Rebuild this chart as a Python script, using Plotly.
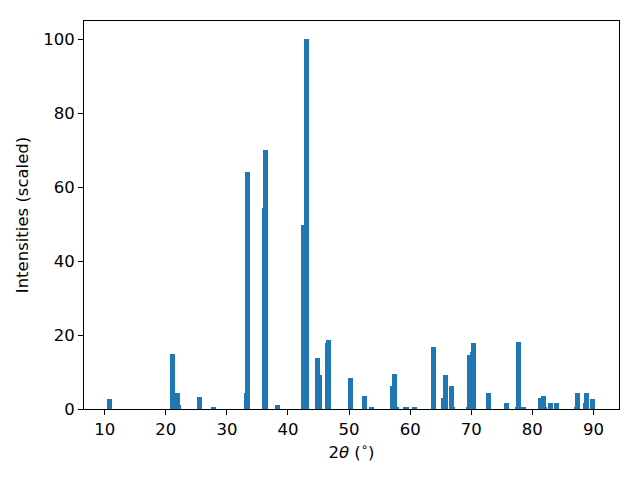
import plotly.graph_objects as go

two_theta = [10.79, 21.09, 21.9, 22.07, 25.51, 27.8, 33.2, 33.36, 36.2, 36.39,
             38.27, 42.52, 43.0, 44.81, 45.14, 46.45, 46.61, 50.21, 52.5, 53.64,
             57.08, 57.41, 57.74, 59.2, 59.37, 60.68, 63.79, 65.42, 65.75, 66.73,
             66.9, 69.6, 69.68, 70.17, 70.33, 72.78, 75.73, 77.5, 77.69, 78.1,
             78.5, 81.29, 81.78, 82.0, 82.93, 83.91, 87.18, 87.34, 88.65, 88.81,
             89.79]
intensities = [2.8, 15.0, 4.4, 1.2, 3.3, 0.4, 4.4, 64.2, 54.5, 70.2,
               1.1, 49.9, 100.0, 13.7, 9.1, 17.8, 18.6, 8.5, 3.6, 0.3,
               6.1, 9.6, 0.3, 0.3, 0.6, 0.3, 16.9, 3.1, 9.3, 6.1,
               0.3, 0.3, 14.5, 15.3, 17.8, 4.4, 1.5, 0.3, 18.0, 0.3,
               0.3, 3.1, 3.6, 0.6, 1.7, 1.5, 0.6, 4.2, 1.7, 4.2,
               2.8]
x_ticks = [10, 20, 30, 40, 50, 60, 70, 80, 90]
y_ticks = [0, 20, 40, 60, 80, 100]

fig = go.Figure(go.Bar(
    x=two_theta, y=intensities, width=[0.8] * len(two_theta),
    marker=dict(color="#1f77b4", line=dict(width=0)),
))

axis_common = dict(
    showline=True, linecolor="black", linewidth=1, mirror=True,
    ticks="outside", ticklen=5, tickwidth=1, tickcolor="black",
    showgrid=False, zeroline=False,
    tickfont=dict(family="DejaVu Sans", size=16.5, color="black"),
)

fig.update_layout(
    width=640, height=480,
    margin=dict(l=84, r=21, t=21, b=71),
    plot_bgcolor="white", paper_bgcolor="white",
    bargap=0, barmode="overlay",
    showlegend=False,
    font=dict(family="DejaVu Sans", size=16.5, color="black"),
    xaxis=dict(range=[6.61, 94.18], tickvals=x_ticks,
               title=dict(text="2<i>θ</i> (<sup>∘</sup>)", standoff=8,
                          font=dict(family="DejaVu Sans", size=16.5)),
               **axis_common),
    yaxis=dict(range=[0, 105], tickvals=y_ticks,
               title=dict(text="Intensities (scaled)", standoff=10,
                          font=dict(family="DejaVu Sans", size=16.5)),
               **axis_common),
)

fig.write_html("out.html", config={"displayModeBar": False},
               post_script="document.body.style.margin='0';")
